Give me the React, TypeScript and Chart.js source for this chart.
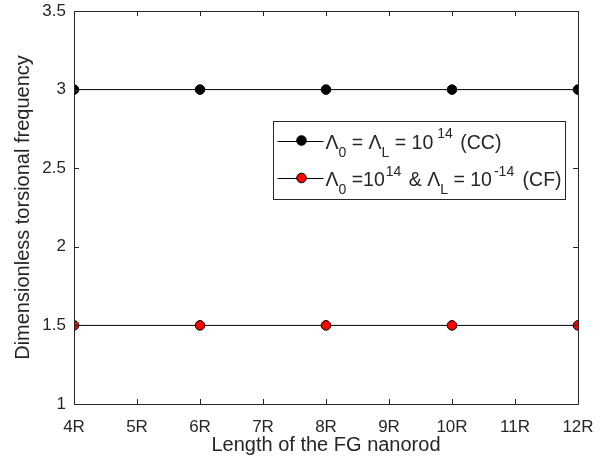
import React, { useEffect, useRef } from "react";
import { Chart, registerables } from "chart.js";

Chart.register(...registerables);

// Rod lengths, in multiples of R
const rodLengths = [4, 6, 8, 10, 12];
// Dimensionless torsional frequency, clamped-clamped
const freqCC = [3, 3, 3, 3, 3];
// Dimensionless torsional frequency, clamped-free
const freqCF = [1.5, 1.5, 1.5, 1.5, 1.5];

const xTicks = [4, 5, 6, 7, 8, 9, 10, 11, 12];
const yTicks = [1, 1.5, 2, 2.5, 3, 3.5];

const AXIS_COLOR = "#262626";
const TEXT_COLOR = "#262626";
const FONT = "'Liberation Sans', Arial, Helvetica, sans-serif";

type Piece = { t: string; s?: "sub" | "sup"; gap?: number };

const legendRows: { pieces: Piece[]; fill: string }[] = [
  {
    fill: "#000000",
    pieces: [
      { t: "Λ" }, { t: "0", s: "sub" }, { t: " = Λ" }, { t: "L", s: "sub" },
      { t: " = 10" }, { t: "14", s: "sup", gap: 4 }, { t: " (CC)", gap: 2 },
    ],
  },
  {
    fill: "#ff0000",
    pieces: [
      { t: "Λ" }, { t: "0", s: "sub" }, { t: " =10" }, { t: "14", s: "sup", gap: 1 },
      { t: " & Λ", gap: 2 }, { t: "L", s: "sub" }, { t: " = 10" }, { t: "-14", s: "sup", gap: 2 },
      { t: " (CF)", gap: 3 },
    ],
  },
];

// Box around the plot area with inward ticks on all four sides, plus the legend
const frameAndLegend = {
  id: "frameAndLegend",
  afterDraw(chart: any) {
    const { ctx, chartArea: a, scales } = chart;
    const xs = scales.x;
    const ys = scales.y;
    const tl = 5;
    ctx.save();
    ctx.strokeStyle = AXIS_COLOR;
    ctx.lineWidth = 1;
    ctx.beginPath();
    ctx.rect(Math.round(a.left) + 0.5, Math.round(a.top) + 0.5, Math.round(a.right - a.left), Math.round(a.bottom - a.top));
    for (const v of xTicks) {
      const px = Math.round(xs.getPixelForValue(v)) + 0.5;
      ctx.moveTo(px, a.bottom);
      ctx.lineTo(px, a.bottom - tl);
      ctx.moveTo(px, a.top);
      ctx.lineTo(px, a.top + tl);
    }
    for (const v of yTicks) {
      const py = Math.round(ys.getPixelForValue(v)) + 0.5;
      ctx.moveTo(a.left, py);
      ctx.lineTo(a.left + tl, py);
      ctx.moveTo(a.right, py);
      ctx.lineTo(a.right - tl, py);
    }
    ctx.stroke();

    // Legend
    const bx = Math.round(a.left + 0.394 * (a.right - a.left)) + 0.5;
    const by = Math.round(a.top + 0.281 * (a.bottom - a.top)) + 0.5;
    const bw = 292;
    const bh = 78;
    ctx.fillStyle = "#ffffff";
    ctx.fillRect(bx, by, bw, bh);
    ctx.strokeStyle = AXIS_COLOR;
    ctx.strokeRect(bx, by, bw, bh);

    legendRows.forEach((row, i) => {
      const cy = by + 19 + i * 37.5;
      ctx.strokeStyle = "#000000";
      ctx.beginPath();
      ctx.moveTo(bx + 4, Math.round(cy) + 0.5);
      ctx.lineTo(bx + 50, Math.round(cy) + 0.5);
      ctx.stroke();
      ctx.beginPath();
      ctx.arc(bx + 28, cy, 4.8, 0, Math.PI * 2);
      ctx.fillStyle = row.fill;
      ctx.fill();
      ctx.stroke();

      let tx = bx + 52;
      ctx.fillStyle = TEXT_COLOR;
      ctx.textBaseline = "alphabetic";
      ctx.textAlign = "left";
      for (const p of row.pieces) {
        let dy = 8;
        if (p.s === "sub") {
          ctx.font = `14px ${FONT}`;
          dy = 16;
        } else if (p.s === "sup") {
          ctx.font = `14px ${FONT}`;
          dy = -2.5;
        } else {
          ctx.font = `19.5px ${FONT}`;
        }
        tx += p.gap || 0;
        ctx.fillText(p.t, tx, cy + dy);
        tx += ctx.measureText(p.t).width;
      }
    });
    ctx.restore();
  },
};

export default function App() {
  const ref = useRef<HTMLCanvasElement | null>(null);

  useEffect(() => {
    if (!ref.current) return;
    const lineStyle = {
      borderColor: "#000000",
      borderWidth: 1,
      pointRadius: 4.8,
      pointBorderColor: "#000000",
      pointBorderWidth: 1,
      tension: 0,
    };
    const chart = new Chart(ref.current, {
      type: "line",
      data: {
        datasets: [
          {
            label: "CC",
            data: rodLengths.map((x, i) => ({ x, y: freqCC[i] })),
            pointBackgroundColor: "#000000",
            ...lineStyle,
          },
          {
            label: "CF",
            data: rodLengths.map((x, i) => ({ x, y: freqCF[i] })),
            pointBackgroundColor: "#ff0000",
            ...lineStyle,
          },
        ],
      },
      options: {
        animation: false,
        responsive: false,
        events: [],
        layout: { padding: { top: 11, right: 30, left: 0, bottom: 0 } },
        plugins: { legend: { display: false }, tooltip: { enabled: false } },
        scales: {
          x: {
            type: "linear",
            min: 4,
            max: 12,
            grid: { display: false, drawTicks: false },
            border: { display: false },
            afterFit: (s: any) => {
              s.height = 60;
              s.paddingLeft = 0;
              s.paddingRight = 0;
            },
            afterBuildTicks: (s: any) => { s.ticks = xTicks.map((value) => ({ value })); },
            ticks: {
              padding: 13,
              color: TEXT_COLOR,
              font: { family: FONT, size: 17 },
              callback: (v: any) => `${v}R`,
              maxRotation: 0,
            },
            title: {
              display: true,
              text: "Length of the FG nanorod",
              color: TEXT_COLOR,
              font: { family: FONT, size: 20 },
              padding: { top: 0, bottom: 7 },
            },
          },
          y: {
            type: "linear",
            min: 1,
            max: 3.5,
            grid: { display: false, drawTicks: false },
            border: { display: false },
            afterFit: (s: any) => {
              s.width = 74;
              s.paddingTop = 0;
              s.paddingBottom = 0;
            },
            afterBuildTicks: (s: any) => { s.ticks = yTicks.map((value) => ({ value })); },
            ticks: {
              padding: 8,
              color: TEXT_COLOR,
              font: { family: FONT, size: 17 },
              callback: (v: any) => `${v}`,
            },
            title: {
              display: true,
              text: "Dimensionless torsional frequency",
              color: TEXT_COLOR,
              font: { family: FONT, size: 20 },
              padding: { top: 11, bottom: 0 },
            },
          },
        },
      },
      plugins: [frameAndLegend],
    });
    return () => chart.destroy();
  }, []);

  return (
    <div style={{ position: "fixed", left: 0, top: 0, width: 608, height: 464, background: "#ffffff" }}>
      <canvas ref={ref} width={608} height={464} style={{ display: "block" }} />
    </div>
  );
}
